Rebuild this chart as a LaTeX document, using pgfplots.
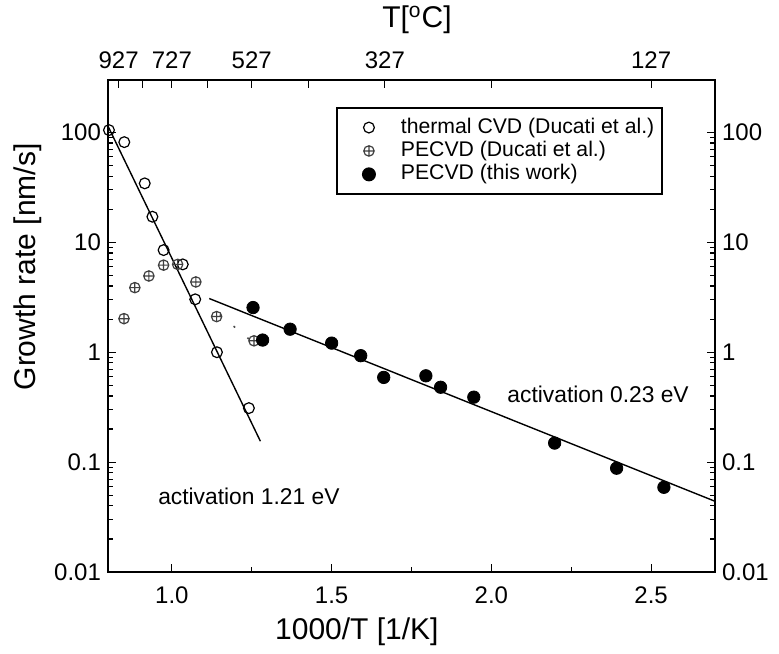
\documentclass[border=0pt]{standalone}
\usepackage{fontspec}
\setmainfont{Liberation Sans}
\usepackage{pgfplots}
\pgfplotsset{compat=1.18}
\pgfkeys{/pgf/number format/assume math mode=true}
\pgfplotsset{
  legend image code/.code={\path[mark repeat=2,mark phase=2,#1] plot coordinates {(0pt,0pt) (14pt,0pt) (28pt,0pt)};},
}
\begin{document}
\begin{tikzpicture}
\useasboundingbox (-54pt,-40.5pt) rectangle (335.5pt,286pt);
\begin{axis}[
  scale only axis, width=303.5pt, height=246pt,
  xmin=0.8, xmax=2.7, ymode=log, ymin=0.01, ymax=300,
  tick align=inside, axis line style={line width=1pt},
  major tick length=4pt, minor tick length=2.5pt,
  every tick/.style={black, line width=0.6pt},
  ytick={0.01,0.1,1,10,100}, yticklabels={0.01,0.1,1,10,100},
  tick label style={font=\fontsize{12}{14}\selectfont},
  label style={font=\fontsize{15}{17}\selectfont},
  xtick={1,1.5,2,2.5}, minor xtick={1.25,1.75,2.25},
  xticklabels={1.0,1.5,2.0,2.5},
  xticklabel style={yshift=-4pt},
  xtick pos=bottom, ytick pos=left,
  xlabel={1000/T [1/K]}, ylabel={Growth rate [nm/s]},
  xlabel style={at={(axis description cs:0.41,-0.122)}, anchor=center},
  ylabel style={at={(axis description cs:-0.132,0.62)}, anchor=center},
  legend style={at={(0.9144,0.945)}, anchor=north east, draw=black, line width=0.8pt,
    font=\fontsize{10.6}{12}\selectfont, inner xsep=2pt, inner ysep=4pt,
    nodes={inner ysep=0.6pt, text height=8pt, text depth=2.5pt}},
  legend cell align=left,
]
% fits
\addplot[black, line width=0.7pt, forget plot] coordinates {(0.8,114) (1.277,0.155)};
\addplot[black, line width=0.7pt, forget plot] coordinates {(1.117,3.08) (2.7,0.044)};
\addplot[black!70, line width=0.8pt, dash pattern=on 1pt off 8pt, forget plot] coordinates {(1.15,2.2) (1.27,1.12)};
% thermal CVD (Ducati et al.)
\addplot[draw=none, mark=o, mark size=2.7pt, mark options={draw=black, line width=0.6pt, solid}] coordinates {
(0.803,105) (0.851,81.6) (0.915,34.4) (0.939,17.1) (0.974,8.5) (1.034,6.3) (1.073,3.03) (1.141,1.0) (1.241,0.31)};
% PECVD (Ducati et al.)
\addplot[draw=none, mark=oplus, mark size=2.6pt, mark options={draw=black!75, fill=white, line width=0.6pt, solid}] coordinates {
(0.850,2.02) (0.884,3.87) (0.928,4.94) (0.974,6.2) (1.018,6.3) (1.075,4.36) (1.140,2.11) (1.257,1.27)};
% PECVD (this work)
\addplot[draw=none, mark=*, mark size=3.1pt, mark options={draw=black, fill=black, solid}] coordinates {
(1.254,2.55) (1.284,1.29) (1.370,1.62) (1.500,1.21) (1.591,0.93) (1.663,0.59) (1.795,0.61) (1.841,0.48) (1.945,0.39) (2.198,0.149) (2.392,0.088) (2.540,0.059)};
\legend{thermal CVD (Ducati et al.),PECVD (Ducati et al.),PECVD (this work)}
\node[font=\fontsize{11.4}{13}\selectfont] at (axis cs:1.241,0.049) {activation 1.21 eV};
\node[font=\fontsize{11.4}{13}\selectfont] at (axis cs:2.334,0.415) {activation 0.23 eV};
\end{axis}
\begin{axis}[
  scale only axis, width=303.5pt, height=246pt,
  xmin=0.8, xmax=2.7, ymode=log, ymin=0.01, ymax=300,
  tick align=inside, axis line style={line width=1pt},
  major tick length=4pt, minor tick length=2.5pt,
  every tick/.style={black, line width=0.6pt},
  ytick={0.01,0.1,1,10,100}, yticklabels={0.01,0.1,1,10,100},
  tick label style={font=\fontsize{12}{14}\selectfont},
  label style={font=\fontsize{15}{17}\selectfont},
  axis x line*=top, axis y line*=right,
  xtick={0.8333,0.9091,1.0,1.1111,1.25,1.4286,1.6667,2.0,2.5},
  xticklabels={927,,727,,527,,327,,127},
  xticklabel style={yshift=2pt},
  xlabel={T[\textsuperscript{o}C]},
  xlabel style={at={(axis description cs:0.509,1.122)}, anchor=center},
]
\addplot[draw=none] coordinates {(1,1)};
\end{axis}
\end{tikzpicture}
\end{document}
